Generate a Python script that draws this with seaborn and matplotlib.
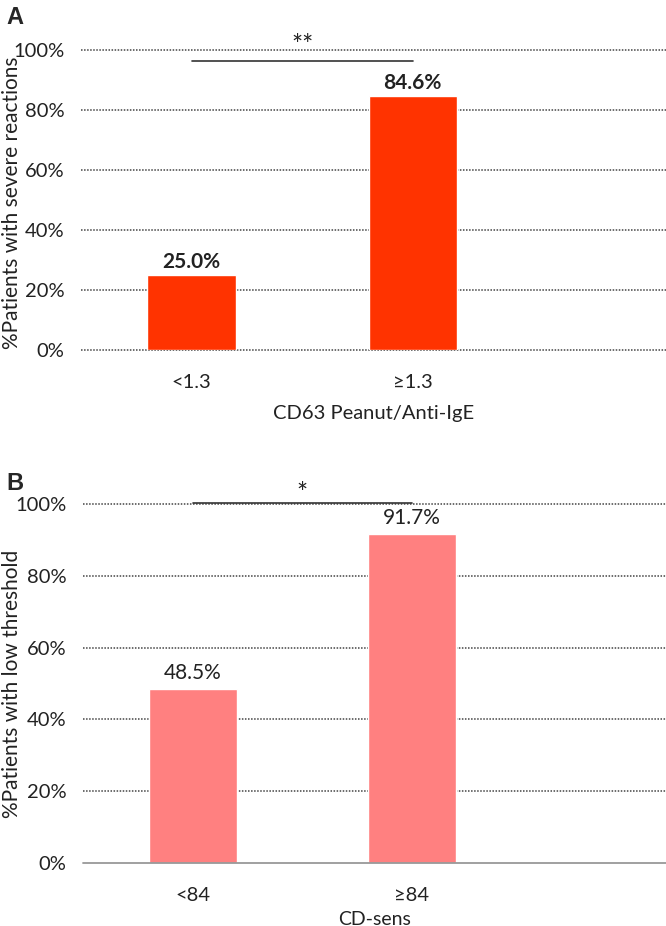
import matplotlib
matplotlib.use("Agg")
import matplotlib.pyplot as plt
import seaborn as sns
import pandas as pd

# ---- data ----
cats_a = ["<1.3", "\u22651.3"]
vals_a = [25.0, 84.6]
labels_a = ["25.0%", "84.6%"]
xlabel_a = "CD63 Peanut/Anti-IgE"
ylabel_a = "%Patients with severe reactions"
sig_a = "**"

cats_b = ["<84", "\u226584"]
vals_b = [48.5, 91.7]
labels_b = ["48.5%", "91.7%"]
xlabel_b = "CD-sens"
ylabel_b = "%Patients with low threshold"
sig_b = "*"

yticks = [0, 20, 40, 60, 80, 100]
ytick_labels = ["0%", "20%", "40%", "60%", "80%", "100%"]

color_a = "#FF3300"
color_b = "#FF8080"

sns.set_theme(style="white")
plt.rcParams["font.family"] = ["Lato", "DejaVu Sans"]

W, H = 666, 926
fig = plt.figure(figsize=(W / 100, H / 100), dpi=100)


def px_axes(left, right, top, bottom):
    return fig.add_axes([left / W, 1 - bottom / H, (right - left) / W, (bottom - top) / H])


def panel(ax, cats, vals, labels, color, xlabel, bold, xlim, sig, sig_y, sig_text_y,
          solid_base, labelpad):
    df = pd.DataFrame({"cat": cats, "val": vals})
    sns.barplot(data=df, x="cat", y="val", hue="cat", palette=[color] * len(cats),
                width=0.4, legend=False, ax=ax, saturation=1, zorder=3)
    ax.set_ylim(0, 100)
    ax.set_xlim(*xlim)
    ax.set_yticks(yticks)
    ax.set_yticklabels(ytick_labels, fontsize=14.5, color="#222222")
    ax.tick_params(axis="y", length=0, pad=12)
    ax.tick_params(axis="x", length=0, pad=17, labelsize=14.5, labelcolor="#222222")
    for s in ax.spines.values():
        s.set_visible(False)
    for t in yticks:
        if t == 0 and solid_base:
            ax.axhline(0, color="#999999", lw=1.3, zorder=4, clip_on=False)
        else:
            ax.axhline(t, color="#444444", lw=1.1, ls=(0, (1, 1)), zorder=1, clip_on=False)
    ax.set_xlabel(xlabel, fontsize=14.5, color="#222222", labelpad=labelpad)
    ax.set_ylabel("")
    for i, (v, lab) in enumerate(zip(vals, labels)):
        ax.text(i, v + 4.5, lab, ha="center", va="center", fontsize=15,
                fontweight="bold" if bold else "normal", color="#222222")
    ax.plot([0, 1], [sig_y, sig_y], color="#333333", lw=1.2, clip_on=False, zorder=5)
    ax.text(0.5, sig_text_y, sig, ha="center", va="center", fontsize=19,
            color="#222222", clip_on=False)


axA = px_axes(81, 666, 50, 350)
panel(axA, cats_a, vals_a, labels_a, color_a, xlabel_a, True, (-0.5, 2.145),
      sig_a, 96.3, 101.0, False, 10)
axB = px_axes(83, 666, 504, 863)
panel(axB, cats_b, vals_b, labels_b, color_b, xlabel_b, False, (-0.502, 2.16),
      sig_b, 100.4, 102.6, True, 5)
axB.xaxis.label.set_fontsize(14)

fig.text(12 / W, 1 - 203 / H, ylabel_a, rotation=90, ha="center", va="center",
         fontsize=15, color="#222222")
fig.text(12 / W, 1 - 684 / H, ylabel_b, rotation=90, ha="center", va="center",
         fontsize=15, color="#222222")
fig.text(6 / W, 1 - 17 / H, "A", ha="left", va="center", fontsize=17,
         fontweight="bold", family=["Liberation Sans", "DejaVu Sans"])
fig.text(6 / W, 1 - 483 / H, "B", ha="left", va="center", fontsize=17,
         fontweight="bold", family=["Liberation Sans", "DejaVu Sans"])

fig.savefig("out.png", dpi=100)
